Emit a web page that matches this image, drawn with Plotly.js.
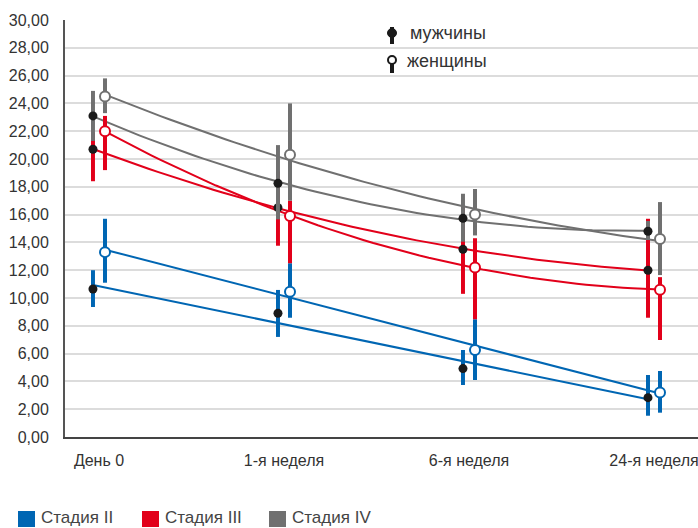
<!DOCTYPE html>
<html>
<head>
<meta charset="utf-8">
<script src="https://cdn.plot.ly/plotly-3.0.1.min.js"></script>
<style>
  html, body { margin: 0; padding: 0; background: #fff; }
  #chart { width: 698px; height: 528px; }
</style>
</head>
<body>
<div id="chart"></div>
<script>
// ---- data ----
const categories = ['День 0', '1-я неделя', '6-я неделя', '24-я неделя'];
const stageNames = ['Стадия II', 'Стадия III', 'Стадия IV'];

// Стадия II
const s2Men        = [10.65, 8.9, 4.92, 2.83];
const s2MenHigh    = [12.0, 10.58, 6.26, 4.46];
const s2MenLow     = [9.35, 7.2, 3.74, 1.53];
const s2Women      = [13.3, 10.45, 6.26, 3.2];
const s2WomenHigh  = [15.7, 12.5, 8.47, 4.75];
const s2WomenLow   = [11.1, 8.58, 4.1, 1.75];

// Стадия III
const s3Men        = [20.7, 16.5, 13.5, 12.0];
const s3MenHigh    = [21.9, 19.1, 16.6, 15.7];
const s3MenLow     = [18.4, 13.76, 10.3, 8.58];
const s3Women      = [22.0, 15.9, 12.2, 10.6];
const s3WomenHigh  = [23.1, 17.0, 14.3, 11.5];
const s3WomenLow   = [19.2, 12.5, 8.47, 6.98];

// Стадия IV
const s4Men        = [23.1, 18.25, 15.73, 14.8];
const s4MenHigh    = [24.9, 21.0, 17.5, 15.54];
const s4MenLow     = [21.3, 15.66, 14.05, 14.17];
const s4Women      = [24.5, 20.3, 16.0, 14.24];
const s4WomenHigh  = [25.8, 24.0, 17.84, 16.9];
const s4WomenLow   = [23.3, 17.0, 14.5, 11.65];

const legendMen = 'мужчины';
const legendWomen = 'женщины';

// ---- styling ----
const COL = ['#0066b3', '#e2001a', '#707070'];
const FONT = 'Liberation Sans, Arial, Helvetica, sans-serif';
const MEN_OFFSET = -0.065, WOMEN_OFFSET = 0;

const idx = categories.map((_, i) => i);
const xMen = idx.map(i => i + MEN_OFFSET);
const xWomen = idx.map(i => i + WOMEN_OFFSET);

// least-squares polynomial trendline (as in the original chart)
function polyfit(xs, ys, deg) {
  const n = deg + 1;
  const A = Array.from({length: n}, () => new Array(n + 1).fill(0));
  for (let k = 0; k < xs.length; k++) {
    for (let r = 0; r < n; r++) {
      for (let c = 0; c < n; c++) A[r][c] += Math.pow(xs[k], r + c);
      A[r][n] += ys[k] * Math.pow(xs[k], r);
    }
  }
  for (let p = 0; p < n; p++) {
    let m = p;
    for (let r = p + 1; r < n; r++) if (Math.abs(A[r][p]) > Math.abs(A[m][p])) m = r;
    [A[p], A[m]] = [A[m], A[p]];
    for (let r = 0; r < n; r++) {
      if (r === p) continue;
      const f = A[r][p] / A[p][p];
      for (let c = p; c <= n; c++) A[r][c] -= f * A[p][c];
    }
  }
  return A.map((row, i) => row[n] / row[i]);
}
function trend(xs, ys, deg, color) {
  const coef = polyfit(xs, ys, deg);
  const x0 = xs[0], x1 = xs[xs.length - 1];
  const tx = [], ty = [];
  for (let k = 0; k <= 60; k++) {
    const x = x0 + (x1 - x0) * k / 60;
    tx.push(x);
    ty.push(coef.reduce((s, c, p) => s + c * Math.pow(x, p), 0));
  }
  return {x: tx, y: ty, type: 'scatter', mode: 'lines',
          line: {color: color, width: 2}, hoverinfo: 'skip', showlegend: false};
}
function pts(xs, ys, hi, lo, color, women) {
  return {
    x: xs, y: ys, type: 'scatter', mode: 'markers', showlegend: false,
    marker: women
      ? {symbol: 'circle', size: 10, color: '#ffffff', line: {color: color, width: 2}}
      : {symbol: 'circle', size: 9, color: '#1a1a1a', line: {width: 0}},
    error_y: {type: 'data', symmetric: false,
              array: hi.map((h, i) => h - ys[i]),
              arrayminus: lo.map((l, i) => ys[i] - l),
              color: color, thickness: 4, width: 0}
  };
}

const series = [
  [s2Men, s2MenHigh, s2MenLow, s2Women, s2WomenHigh, s2WomenLow, 1],
  [s3Men, s3MenHigh, s3MenLow, s3Women, s3WomenHigh, s3WomenLow, 2],
  [s4Men, s4MenHigh, s4MenLow, s4Women, s4WomenHigh, s4WomenLow, 2]
];

const traces = [];
series.forEach((s, k) => {
  traces.push(trend(xMen, s[0], s[6], COL[k]));
  traces.push(trend(xWomen, s[3], s[6], COL[k]));
});
series.forEach((s, k) => {
  traces.push(pts(xMen, s[0], s[1], s[2], COL[k], false));
  traces.push(pts(xWomen, s[3], s[4], s[5], COL[k], true));
});

// legends drawn as decoration (paper coords)
const L = 65, W = 633, T = 20, H = 417;
const px = v => (v - L) / W;
const py = v => (T + H - v) / H;
const shapes = [
  {type: 'line', xref: 'paper', yref: 'paper', x0: px(392), x1: px(392), y0: py(27), y1: py(44),
   line: {color: '#1a1a1a', width: 4}},
  {type: 'circle', xref: 'paper', yref: 'paper', x0: px(387.5), x1: px(396.5), y0: py(37.5), y1: py(28.5),
   fillcolor: '#1a1a1a', line: {color: '#1a1a1a', width: 1}},
  {type: 'line', xref: 'paper', yref: 'paper', x0: px(392), x1: px(392), y0: py(57), y1: py(73),
   line: {color: '#1a1a1a', width: 4}},
  {type: 'circle', xref: 'paper', yref: 'paper', x0: px(388), x1: px(396), y0: py(64), y1: py(56),
   fillcolor: '#ffffff', line: {color: '#1a1a1a', width: 2}}
];
const annotations = [
  {xref: 'paper', yref: 'paper', x: px(408), y: py(33), xanchor: 'left', yanchor: 'middle',
   text: legendMen, showarrow: false, font: {family: FONT, size: 18, color: '#333'}},
  {xref: 'paper', yref: 'paper', x: px(405), y: py(61), xanchor: 'left', yanchor: 'middle',
   text: legendWomen, showarrow: false, font: {family: FONT, size: 18, color: '#333'}}
];
const legendX = [18, 142, 269];
stageNames.forEach((name, k) => {
  const x0 = legendX[k];
  shapes.push({type: 'rect', xref: 'paper', yref: 'paper', x0: px(x0), x1: px(x0 + 17),
               y0: py(527), y1: py(511), fillcolor: COL[k], line: {width: 0}});
  annotations.push({xref: 'paper', yref: 'paper', x: px(x0 + 21), y: py(517), xanchor: 'left',
                    yanchor: 'middle', text: name, showarrow: false,
                    font: {family: FONT, size: 17, color: '#444'}});
});

const layout = {
  width: 698, height: 528,
  margin: {l: 65, r: 0, t: 20, b: 91, pad: 0, autoexpand: false},
  paper_bgcolor: '#ffffff', plot_bgcolor: '#ffffff',
  separators: ', ',
  font: {family: FONT, size: 16, color: '#333'},
  showlegend: false,
  xaxis: {
    range: [-0.2162, 3.2054], tickvals: idx, ticktext: categories,
    showgrid: false, zeroline: false, showline: true, linecolor: '#444', linewidth: 2,
    ticks: '', ticklabelstandoff: 8, ticklabelshift: -6, ticklabeloverflow: 'allow',
    tickfont: {family: FONT, size: 16, color: '#333'}, fixedrange: true
  },
  yaxis: {
    range: [0, 30], dtick: 2, tick0: 0, tickformat: '.2f',
    showgrid: true, gridcolor: '#dcdcdc', gridwidth: 2, zeroline: false,
    showline: true, linecolor: '#555', linewidth: 2, ticks: '', ticklabelstandoff: 11,
    tickfont: {family: FONT, size: 16, color: '#333'}, fixedrange: true
  },
  shapes: shapes,
  annotations: annotations
};

Plotly.newPlot('chart', traces, layout, {staticPlot: true, displayModeBar: false});
</script>
</body>
</html>
